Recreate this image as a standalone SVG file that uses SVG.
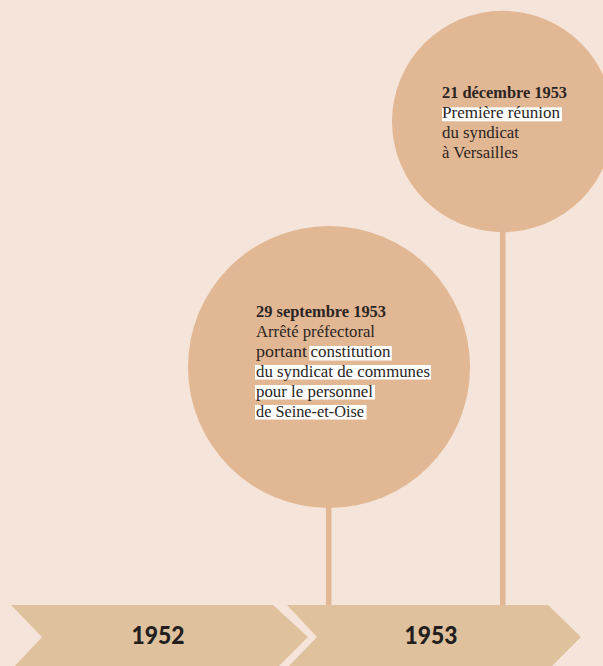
<svg xmlns="http://www.w3.org/2000/svg" width="603" height="666" viewBox="0 0 603 666">
<style>
.bg{fill:#F4E4D9}
.circ{fill:#E2B794}
.stem{stroke:#E2B794;stroke-width:5.5;fill:none}
.chev{fill:#E0C19D}
.hl{fill:#FFFFFF}
.t{font-family:"Liberation Serif",serif;font-size:16px;fill:#2B2523}
.b{font-weight:bold}
.yr{font-family:Lato,"Liberation Sans",sans-serif;font-weight:900;font-size:24px;fill:#231F20;text-anchor:middle}
</style>
<rect class="bg" x="0" y="0" width="603" height="666"/>
<g id="connectors">
<line class="stem" x1="328.7" y1="490" x2="328.7" y2="608"/>
<line class="stem" x1="502.7" y1="200" x2="502.7" y2="608"/>
</g>
<g id="timeline">
<g id="year-1952">
<polygon class="chev" points="11,605 273,605 308,637 277,668 13,668 42,637"/>
<text class="yr" x="158" y="644" textLength="53" lengthAdjust="spacingAndGlyphs">1952</text>
</g>
<g id="year-1953">
<polygon class="chev" points="287,605 548,605 581,637 550,668 287,668 317,637"/>
<text class="yr" x="431" y="644" textLength="53" lengthAdjust="spacingAndGlyphs">1953</text>
</g>
</g>
<g id="event-1">
<circle class="circ" cx="329" cy="367" r="141"/>
<rect class="hl" x="309.3" y="346" width="82.5" height="14.5"/>
<rect class="hl" x="255" y="365" width="176" height="14.5"/>
<rect class="hl" x="255" y="385" width="120" height="14.5"/>
<rect class="hl" x="255" y="405" width="111.5" height="14.5"/>
<text class="t b" x="256" y="317" textLength="130" lengthAdjust="spacingAndGlyphs">29 septembre 1953</text>
<text class="t" x="256" y="337" textLength="119" lengthAdjust="spacingAndGlyphs">Arrêté préfectoral</text>
<text class="t" x="256" y="357"><tspan textLength="51" lengthAdjust="spacingAndGlyphs">portant</tspan><tspan x="310.5" textLength="80" lengthAdjust="spacingAndGlyphs">constitution</tspan></text>
<text class="t" x="256" y="377" textLength="174" lengthAdjust="spacingAndGlyphs">du syndicat de communes</text>
<text class="t" x="256" y="397" textLength="117" lengthAdjust="spacingAndGlyphs">pour le personnel</text>
<text class="t" x="256" y="417" textLength="108" lengthAdjust="spacingAndGlyphs">de Seine-et-Oise</text>
</g>
<g id="event-2">
<circle class="circ" cx="502.7" cy="121.5" r="110.7"/>
<rect class="hl" x="442" y="107.3" width="120" height="14"/>
<text class="t b" x="442" y="98" textLength="125" lengthAdjust="spacingAndGlyphs">21 décembre 1953</text>
<text class="t" x="442" y="118" textLength="118" lengthAdjust="spacingAndGlyphs">Première réunion</text>
<text class="t" x="442" y="138" textLength="77" lengthAdjust="spacingAndGlyphs">du syndicat</text>
<text class="t" x="442" y="158" textLength="76" lengthAdjust="spacingAndGlyphs">à Versailles</text>
</g>
</svg>
